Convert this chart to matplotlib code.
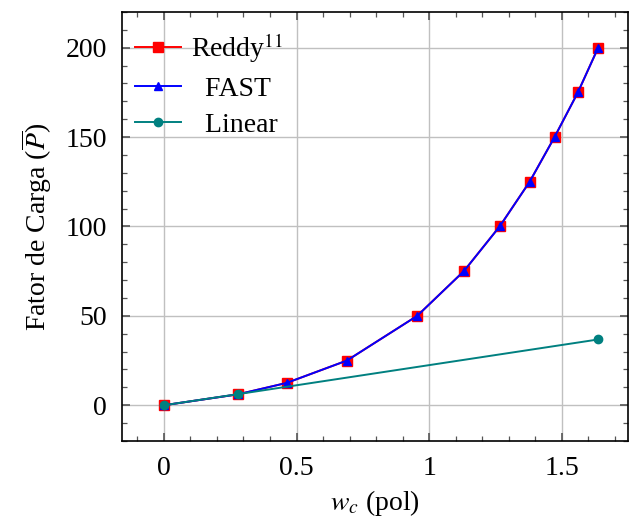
import matplotlib
matplotlib.use("Agg")
import matplotlib.pyplot as plt
from matplotlib.ticker import MultipleLocator

plt.rcParams['font.family'] = ['Liberation Serif', 'DejaVu Serif']
plt.rcParams['mathtext.fontset'] = 'stix'

# data
wc_reddy = [0, 0.279, 0.463, 0.69, 0.955, 1.131, 1.266, 1.379, 1.473, 1.561, 1.6375]
p_reddy = [0, 6.1, 12.5, 25, 50, 75, 100, 125, 150, 175, 200]
wc_fast = [0, 0.279, 0.463, 0.69, 0.955, 1.131, 1.266, 1.379, 1.473, 1.561, 1.6375]
p_fast = [0, 6.1, 12.5, 25, 50, 75, 100, 125, 150, 175, 200]
wc_linear = [0, 0.279, 1.6375]
p_linear = [0, 6.2, 36.8]

xticks = [0, 0.5, 1, 1.5]
xticklabels = ['0', '0.5', '1', '1.5']
yticks = [0, 50, 100, 150, 200]

fig = plt.figure(figsize=(6.3, 5.19), dpi=100)
ax = fig.add_axes([0.1937, 0.1503, 0.8031, 0.8266])

ax.plot(wc_reddy, p_reddy, color='red', marker='s', ms=7, lw=1.4, label=r'Reddy$^{11}$', zorder=3)
ax.plot(wc_fast, p_fast, color='blue', marker='^', ms=6, lw=1.4, label='  FAST', zorder=4)
ax.plot(wc_linear, p_linear, color=(0, 0.5, 0.5), marker='o', ms=6, lw=1.4, label='  Linear', zorder=5)

ax.set_xlim(-0.158, 1.75)
ax.set_ylim(-20, 220)
ax.set_xticks(xticks)
ax.set_xticklabels(xticklabels)
ax.set_yticks(yticks)
ax.xaxis.set_minor_locator(MultipleLocator(0.1))
ax.yaxis.set_minor_locator(MultipleLocator(10))
ax.tick_params(which='both', direction='in', top=True, right=True, color='#555555', labelsize=20)
ax.tick_params(which='major', length=6, width=1.2, pad=11)
ax.tick_params(which='minor', length=3.5, width=0.9)
ax.grid(True, which='major', color='#c0c0c0', lw=1.0)
ax.set_axisbelow(True)
for s in ax.spines.values():
    s.set_linewidth(1.2)

ax.set_xlabel(r'$w_c$ (pol)', fontsize=20, labelpad=5)
ax.set_ylabel(r'Fator de Carga ($\overline{P}$)', fontsize=20, labelpad=8)

ax.legend(loc='upper left', bbox_to_anchor=(0.0, 0.985), frameon=False, fontsize=20,
          handlelength=1.65, borderaxespad=0.07, labelspacing=0.4, handletextpad=0.35)

fig.savefig('out.png', dpi=100)
